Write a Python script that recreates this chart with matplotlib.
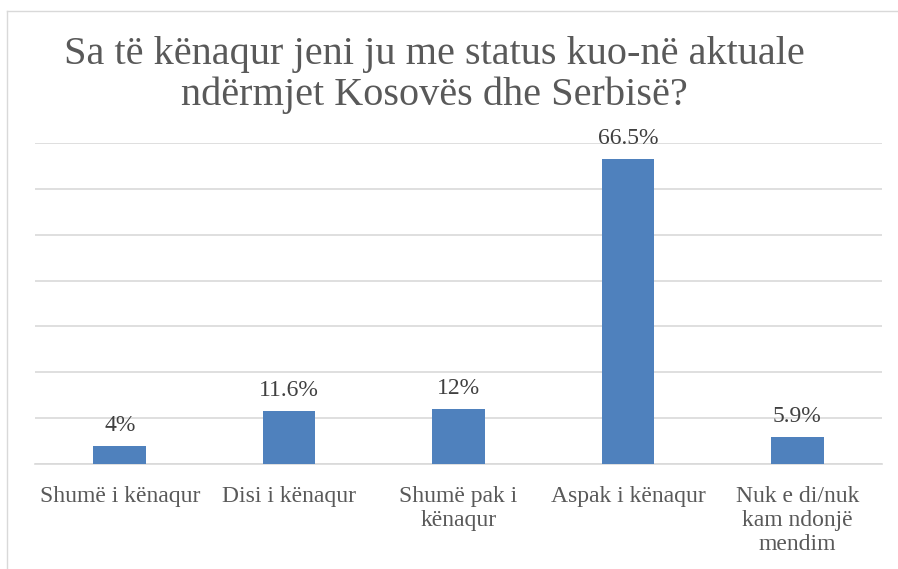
import matplotlib
matplotlib.use("Agg")
import matplotlib.pyplot as plt
from matplotlib.lines import Line2D

categories = ["Shumë i kënaqur", "Disi i kënaqur", "Shumë pak i\nkënaqur",
              "Aspak i kënaqur", "Nuk e di/nuk\nkam ndonjë\nmendim"]
values = [4.0, 11.6, 12.0, 66.5, 5.9]
value_labels = ["4%", "11.6%", "12%", "66.5%", "5.9%"]
title = "Sa të kënaqur jeni ju me status kuo-në aktuale\nndërmjet Kosovës dhe Serbisë?"

W, H = 898, 569
fig = plt.figure(figsize=(W / 100, H / 100), dpi=100)
ax = fig.add_axes([35 / W, 1 - 464 / H, (882 - 35) / W, (464 - 143) / H])

x = list(range(len(categories)))
ax.bar(x, values, width=0.31, color="#4F81BD", zorder=3)
ax.set_xlim(-0.5, len(categories) - 0.5)
ax.set_ylim(0, 70)
ax.set_yticks(range(0, 71, 10))
ax.yaxis.grid(True, color="#D9D9D9", linewidth=1.2, zorder=0)
ax.tick_params(axis="y", left=False, labelleft=False)
ax.tick_params(axis="x", bottom=False, pad=12)
ax.set_xticks(x)
ax.set_xticklabels(categories, fontfamily="Liberation Serif", fontsize=17,
                   color="#595959", linespacing=1.2)
for s in ["left", "right", "top"]:
    ax.spines[s].set_visible(False)
ax.spines["bottom"].set_color("#D9D9D9")
ax.spines["bottom"].set_linewidth(1.2)

for xi, v, lab in zip(x, values, value_labels):
    ax.annotate(lab, (xi, v), xytext=(0, 7), textcoords="offset points",
                ha="center", va="bottom", fontfamily="Liberation Serif",
                fontsize=17, color="#404040")

fig.text(434 / W, 1 - 36 / H, title, ha="center", va="top",
         fontfamily="Liberation Serif", fontsize=29,
         color="#595959", linespacing=1.12)

# chart frame (partially visible)
fig.add_artist(Line2D([7 / W, 7 / W], [0, 1 - 11 / H], transform=fig.transFigure,
                      color="#D9D9D9", linewidth=1))
fig.add_artist(Line2D([7 / W, 1], [1 - 11 / H, 1 - 11 / H], transform=fig.transFigure,
                      color="#D9D9D9", linewidth=1))

fig.savefig("out.png", dpi=100)
